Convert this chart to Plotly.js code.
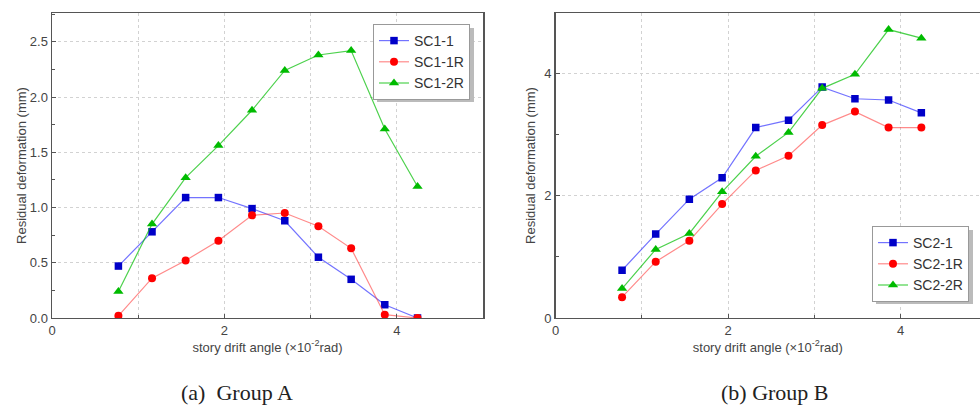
<!DOCTYPE html>
<html><head><meta charset="utf-8">
<script src="https://cdn.plot.ly/plotly-3.0.1.min.js"></script>
<style>html,body{margin:0;padding:0;background:#fff;}#chart{width:980px;height:407px;}</style>
</head><body><div id="chart"></div>
<script>
// story drift angle (x10^-2 rad)
const driftAngle = [0.77, 1.16, 1.55, 1.93, 2.32, 2.70, 3.09, 3.47, 3.86, 4.24];
// Group A residual deformation (mm)
const sc1_1  = [0.47, 0.78, 1.09, 1.09, 0.99, 0.88, 0.55, 0.35, 0.12, 0.00];
const sc1_1R = [0.02, 0.36, 0.52, 0.70, 0.93, 0.95, 0.83, 0.63, 0.03, 0.00];
const sc1_2R = [0.24, 0.85, 1.27, 1.56, 1.88, 2.24, 2.38, 2.42, 1.71, 1.19];
// Group B residual deformation (mm)
const sc2_1  = [0.78, 1.37, 1.94, 2.29, 3.11, 3.23, 3.77, 3.58, 3.56, 3.35];
const sc2_1R = [0.34, 0.92, 1.26, 1.86, 2.41, 2.65, 3.15, 3.37, 3.11, 3.11];
const sc2_2R = [0.48, 1.12, 1.38, 2.06, 2.64, 3.03, 3.75, 3.98, 4.71, 4.57];
const namesA = ['SC1-1', 'SC1-1R', 'SC1-2R'];
const namesB = ['SC2-1', 'SC2-1R', 'SC2-2R'];
const captions = ['(a)\u00a0\u00a0Group A', '(b) Group B'];
const xTitle = 'story drift angle (\u00d710<sup>-2</sup>rad)';
const yTitle = 'Residual deformation (mm)';

const styles = [
  {line: 'rgba(40,40,255,0.65)', marker: '#0000c8', symbol: 'square', size: 7.5},
  {line: 'rgba(255,60,60,0.6)', marker: '#ff0000', symbol: 'circle', size: 8},
  {line: 'rgba(0,190,0,0.7)', marker: '#00bb00', symbol: 'triangle-up', size: 9}
];

function tr(y, name, i, xa, ya, leg) {
  return {x: driftAngle, y: y, name: name, type: 'scatter', mode: 'lines+markers',
    xaxis: xa, yaxis: ya, legend: leg,
    line: {color: styles[i].line, width: 1.2},
    marker: {color: styles[i].marker, symbol: styles[i].symbol, size: styles[i].size}};
}
const data = [
  tr(sc1_1, namesA[0], 0, 'x', 'y', 'legend'),
  tr(sc1_1R, namesA[1], 1, 'x', 'y', 'legend'),
  tr(sc1_2R, namesA[2], 2, 'x', 'y', 'legend'),
  tr(sc2_1, namesB[0], 0, 'x2', 'y2', 'legend2'),
  tr(sc2_1R, namesB[1], 1, 'x2', 'y2', 'legend2'),
  tr(sc2_2R, namesB[2], 2, 'x2', 'y2', 'legend2')
];

const frame = '#555';
const grid = '#d2d2d2';
const tickFont = {family: 'Liberation Sans, Arial, sans-serif', size: 13, color: '#444'};
function xaxis(dom, range, mirror, anchor) {
  return {domain: dom, range: range, anchor: anchor, showline: true, linecolor: frame, linewidth: 1.5,
    mirror: mirror, ticks: 'inside', ticklen: 4, tickcolor: frame, tickmode: 'linear', tick0: 0, dtick: 2,
    showgrid: true, gridcolor: grid, griddash: 'dot', zeroline: false, tickfont: tickFont,
    minor: {dtick: 1, tick0: 0, ticks: 'inside', ticklen: 3, tickcolor: frame, showgrid: true, gridcolor: grid, griddash: 'dot'},
    title: {text: xTitle, font: {family: 'Liberation Sans, Arial, sans-serif', size: 13, color: '#444'}, standoff: 5},
    fixedrange: true};
}
function yaxis(range, dtick, mdtick, fmt, mirror, anchor, standoff) {
  return {domain: [0.2187, 0.968], range: range, anchor: anchor, showline: true, linecolor: frame, linewidth: 1.5,
    mirror: mirror, ticks: 'inside', ticklen: 4, tickcolor: frame, tickmode: 'linear', tick0: 0, dtick: dtick,
    tickformat: fmt,
    showgrid: true, gridcolor: grid, griddash: 'dot', zeroline: false, tickfont: tickFont,
    minor: {dtick: mdtick, tick0: 0, ticks: 'inside', ticklen: 3, tickcolor: frame, showgrid: false},
    title: {text: yTitle, font: {family: 'Liberation Sans, Arial, sans-serif', size: 13, color: '#444'}, standoff: standoff},
    fixedrange: true};
}

const legendCommon = {bgcolor: '#fff', bordercolor: '#999', borderwidth: 1,
  font: {family: 'Liberation Sans, Arial, sans-serif', size: 14, color: '#333'},
  xanchor: 'left', yanchor: 'top', tracegroupgap: 0, itemwidth: 30};

const layout = {
  width: 980, height: 407, margin: {l: 0, r: 0, t: 0, b: 0},
  paper_bgcolor: '#fff', plot_bgcolor: '#fff', showlegend: true,
  font: {family: 'Liberation Sans, Arial, sans-serif', color: '#333'},
  xaxis: xaxis([0.0531, 0.4929], [0, 5], true, 'y'),
  yaxis: yaxis([0, 2.76], 0.5, 0.25, '.1f', true, 'x', 0),
  xaxis2: xaxis([0.567, 1], [0, 4.92], true, 'y2'),
  yaxis2: yaxis([0, 4.98], 2, 1, 'd', false, 'x2', 6),
  legend: Object.assign({x: 373/980, y: 1 - 24/407}, legendCommon),
  legend2: Object.assign({x: 872/980, y: 1 - 226/407}, legendCommon),
  shapes: [
    {type: 'rect', xref: 'paper', yref: 'paper', x0: 377/980, x1: 474/980, y0: 1 - 102/407, y1: 1 - 28/407,
      fillcolor: '#bbb', line: {width: 0}, layer: 'above'},
    {type: 'rect', xref: 'paper', yref: 'paper', x0: 876/980, x1: 973/980, y0: 1 - 304/407, y1: 1 - 230/407,
      fillcolor: '#bbb', line: {width: 0}, layer: 'above'}
  ],
  annotations: [
    {text: captions[0], xref: 'paper', yref: 'paper', x: 237/980, y: 1 - 392/407, showarrow: false,
      xanchor: 'center', yanchor: 'middle', font: {family: 'Liberation Serif, Times New Roman, serif', size: 22, color: '#222'}},
    {text: captions[1], xref: 'paper', yref: 'paper', x: 775/980, y: 1 - 392/407, showarrow: false,
      xanchor: 'center', yanchor: 'middle', font: {family: 'Liberation Serif, Times New Roman, serif', size: 22, color: '#222'}}
  ]
};
Plotly.newPlot('chart', data, layout, {staticPlot: true, displayModeBar: false});
</script></body></html>
